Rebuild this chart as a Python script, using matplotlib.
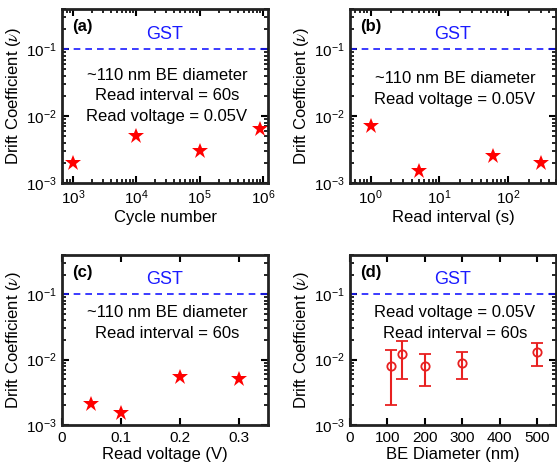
import matplotlib
matplotlib.use("Agg")
import matplotlib.pyplot as plt
import numpy as np

plt.rcParams['font.family'] = ['Liberation Sans', 'DejaVu Sans']
plt.rcParams['mathtext.fontset'] = 'stix'

# data
cycles = [1e3, 1e4, 1e5, 9e5]
nu_cycles = [2.0e-3, 5.0e-3, 3.0e-3, 6.5e-3]

intervals = [1, 5, 60, 300]
nu_intervals = [7.0e-3, 1.5e-3, 2.5e-3, 2.0e-3]

voltages = [0.05, 0.1, 0.2, 0.3]
nu_voltages = [2.1e-3, 1.55e-3, 5.5e-3, 5.1e-3]

diameters = [110, 140, 200, 300, 500]
nu_diam = [8e-3, 1.2e-2, 8e-3, 9e-3, 1.3e-2]
nu_diam_lo = [2e-3, 5e-3, 4e-3, 5e-3, 8e-3]
nu_diam_hi = [1.4e-2, 1.9e-2, 1.2e-2, 1.3e-2, 1.8e-2]

gst_nu = 0.1

W, H = 557, 475
fig = plt.figure(figsize=(W / 100, H / 100), dpi=100)

def make_ax(x0, y0, x1, y1):
    ax = fig.add_axes([x0 / W, 1 - y1 / H, (x1 - x0) / W, (y1 - y0) / H])
    for s in ax.spines.values():
        s.set_linewidth(2)
        s.set_color('#222222')
    ax.tick_params(which='both', direction='in', top=True, right=True,
                   labelsize=11, pad=4)
    ax.tick_params(which='major', length=5, width=1.5)
    ax.tick_params(which='minor', length=3, width=1.2)
    ax.set_yscale('log')
    ax.set_ylim(1e-3, 0.4)
    ax.set_yticks([1e-3, 1e-2, 1e-1])
    ax.set_ylabel(r'Drift Coefficient ($\nu$)', fontsize=12, labelpad=2)
    ax.axhline(gst_nu, color='#1a1aff', ls='--', lw=1.2, dashes=(4, 3))
    ax.text(0.5, 0.855, 'GST', color='#1a1aff', fontsize=13,
            ha='center', va='center', transform=ax.transAxes)
    return ax

def label(ax, s):
    ax.text(0.05, 0.9, s, fontsize=12, fontweight='bold', ha='left',
            va='center', transform=ax.transAxes)

def notes(ax, lines, ytop):
    for i, t in enumerate(lines):
        ax.text(0.51, ytop - i * 0.12, t, fontsize=12, ha='center',
                va='center', transform=ax.transAxes)

star = dict(marker='*', color='red', ls='none', markersize=12, markeredgewidth=0)

# (a)
ax = make_ax(62, 9, 268, 183)
ax.set_xscale('log')
ax.set_xlim(10 ** 2.83, 10 ** 6.08)
ax.set_xticks([1e3, 1e4, 1e5, 1e6])
ax.plot(cycles, nu_cycles, **star)
ax.set_xlabel('Cycle number', fontsize=12, labelpad=2)
label(ax, '(a)')
notes(ax, ['~110 nm BE diameter', 'Read interval = 60s', 'Read voltage = 0.05V'], 0.62)

# (b)
ax = make_ax(350, 9, 556, 183)
ax.set_xscale('log')
ax.set_xlim(10 ** -0.3, 10 ** 2.7)
ax.set_xticks([1, 10, 100])
ax.plot(intervals, nu_intervals, **star)
ax.set_xlabel('Read interval (s)', fontsize=12, labelpad=2)
label(ax, '(b)')
notes(ax, ['~110 nm BE diameter', 'Read voltage = 0.05V'], 0.6)

# (c)
ax = make_ax(62, 255, 268, 425)
ax.set_xlim(0, 0.35)
ax.set_xticks([0, 0.1, 0.2, 0.3])
ax.set_xticklabels(['0', '0.1', '0.2', '0.3'])
ax.plot(voltages, nu_voltages, **star)
ax.set_xlabel('Read voltage (V)', fontsize=12, labelpad=2)
label(ax, '(c)')
notes(ax, ['~110 nm BE diameter', 'Read interval = 60s'], 0.66)

# (d)
ax = make_ax(350, 255, 556, 425)
ax.set_xlim(0, 550)
ax.set_xticks([0, 100, 200, 300, 400, 500])
yerr = [np.array(nu_diam) - np.array(nu_diam_lo), np.array(nu_diam_hi) - np.array(nu_diam)]
ax.errorbar(diameters, nu_diam, yerr=yerr, fmt='o', color='#e82020', mfc='none',
            markersize=6, mew=1.3, elinewidth=1.5, capsize=4, capthick=1.5)
ax.set_xlabel('BE Diameter (nm)', fontsize=12, labelpad=2)
label(ax, '(d)')
notes(ax, ['Read voltage = 0.05V', 'Read interval = 60s'], 0.66)

fig.savefig('out.png', dpi=100)
